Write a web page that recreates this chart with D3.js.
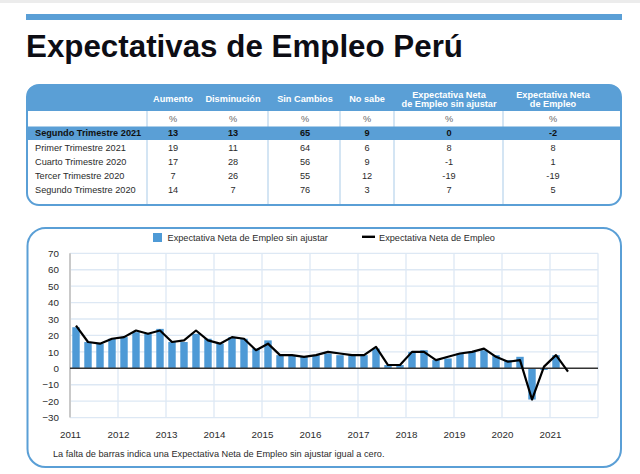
<!DOCTYPE html>
<html>
<head>
<meta charset="utf-8">
<script src="https://cdn.jsdelivr.net/npm/d3@7"></script>
<style>
  html, body { margin: 0; padding: 0; background: #fff; }
  svg { display: block; font-family: "Liberation Sans", Arial, Helvetica, sans-serif; }
</style>
</head>
<body>
<svg id="chart" width="640" height="474"></svg>
<script>
// ---------- DATA ----------
const title = "Expectativas de Empleo Perú";

const tableHeaders = [
  ["Aumento"], ["Disminución"], ["Sin Cambios"], ["No sabe"],
  ["Expectativa Neta", "de Empleo sin ajustar"], ["Expectativa Neta", "de Empleo"]
];
const rowLabels = ["Segundo Trimestre 2021", "Primer Trimestre 2021", "Cuarto Trimestre 2020",
                   "Tercer Trimestre 2020", "Segundo Trimestre 2020"];
const aumento       = [13, 19, 17, 7, 14];
const disminucion   = [13, 11, 28, 26, 7];
const sinCambios    = [65, 64, 56, 55, 76];
const noSabe        = [9, 6, 9, 12, 3];
const eneSinAjustar = [0, 8, -1, -19, 7];
const eneAjustada   = [-2, 8, 1, -19, 5];

const years = [2011, 2012, 2013, 2014, 2015, 2016, 2017, 2018, 2019, 2020, 2021];
const quarterNames = ["T1", "T2", "T3", "T4"];
// Expectativa Neta de Empleo sin ajustar (bars), 2011 T1 .. 2021 T2
const netUnadjusted = [25, 16, 15, 18,  19, 22, 21, 24,  16, 16, 21, 18,  15, 19, 18, 12,
                       17, 8, 8, 7,     8, 9, 8, 8,      8, 12, 2, 2,     10, 11, 5, 6,
                       9, 10, 11, 8,    5, 7, -19, -1,   8, 0];
// Expectativa Neta de Empleo (line)
const netAdjusted   = [26, 16, 15, 18,  19, 23, 21, 23,  16, 17, 23, 17,  15, 19, 18, 11,
                       15, 8, 8, 7,     8, 10, 9, 8,     8, 13, 2, 2,     10, 10, 5, 7,
                       9, 10, 12, 7,    4, 5, -19, 1,    8, -2];
const yTicks = [-30, -20, -10, 0, 10, 20, 30, 40, 50, 60, 70];
const legendLabels = ["Expectativa Neta de Empleo sin ajustar", "Expectativa Neta de Empleo"];
const footnote = "La falta de barras indica una Expectativa Neta de Empleo sin ajustar igual a cero.";

// ---------- STYLE ----------
const BLUE = "#5a9fd6";
const BAR = "#4e9ad6";
const GRID = "#dde8f4";
const TXT = "#2b2b2b";

const svg = d3.select("#chart");

// top shade + blue rule
svg.append("rect").attr("x", 0).attr("y", 0).attr("width", 640).attr("height", 3).attr("fill", "#ececec");
svg.append("rect").attr("x", 26).attr("y", 14).attr("width", 596).attr("height", 6).attr("fill", BLUE);

svg.append("text").attr("x", 26).attr("y", 57)
  .attr("font-size", 31).attr("font-weight", "bold").attr("fill", "#0d0d14")
  .attr("textLength", 437).attr("lengthAdjust", "spacingAndGlyphs")
  .text(title);

// ---------- TABLE ----------
const tX0 = 27, tX1 = 621, tY0 = 85, tY1 = 205, rad = 12;
const headBottom = 111;
svg.append("path")
  .attr("d", `M${tX0},${headBottom} L${tX0},${tY0 + rad} Q${tX0},${tY0} ${tX0 + rad},${tY0} L${tX1 - rad},${tY0} Q${tX1},${tY0} ${tX1},${tY0 + rad} L${tX1},${headBottom} Z`)
  .attr("fill", BLUE);

const colCenters = [173, 233, 305, 367, 449, 553];
const separators = [147, 268, 340, 394, 503];
const rowH = 14.2;
const pctY = 119;
const firstRowY = 133;

separators.forEach(sx => {
  svg.append("line").attr("x1", sx).attr("x2", sx).attr("y1", headBottom).attr("y2", tY1)
    .attr("stroke", "#a9cbe8").attr("stroke-width", 1);
});
svg.append("rect").attr("x", tX0).attr("y", firstRowY - 6.5).attr("width", tX1 - tX0).attr("height", 13.5)
  .attr("fill", BLUE);

svg.append("rect").attr("x", tX0).attr("y", tY0).attr("width", tX1 - tX0).attr("height", tY1 - tY0)
  .attr("rx", rad).attr("ry", rad).attr("fill", "none").attr("stroke", BLUE).attr("stroke-width", 2);

tableHeaders.forEach((lines, i) => {
  const t = svg.append("text").attr("x", colCenters[i]).attr("text-anchor", "middle")
    .attr("font-size", 9.2).attr("font-weight", "bold").attr("fill", "#fff");
  if (lines.length === 1) {
    t.attr("y", 102).text(lines[0]);
  } else {
    t.attr("y", 98).text(lines[0]);
    svg.append("text").attr("x", colCenters[i]).attr("y", 107).attr("text-anchor", "middle")
      .attr("font-size", 9.2).attr("font-weight", "bold").attr("fill", "#fff").text(lines[1]);
  }
  svg.append("text").attr("x", colCenters[i]).attr("y", pctY + 3.3).attr("text-anchor", "middle")
    .attr("font-size", 9.2).attr("fill", "#666").text("%");
});

const columns = [aumento, disminucion, sinCambios, noSabe, eneSinAjustar, eneAjustada];
rowLabels.forEach((lab, ri) => {
  const yy = firstRowY + ri * rowH + 3.3;
  const bold = ri === 0;
  svg.append("text").attr("x", 35).attr("y", yy).attr("font-size", 9.2)
    .attr("font-weight", bold ? "bold" : "normal").attr("fill", bold ? "#111" : TXT).text(lab);
  columns.forEach((col, ci) => {
    svg.append("text").attr("x", colCenters[ci]).attr("y", yy).attr("text-anchor", "middle")
      .attr("font-size", 9.2).attr("font-weight", bold ? "bold" : "normal")
      .attr("fill", bold ? "#111" : TXT).text(col[ri]);
  });
});

// ---------- CHART ----------
svg.append("rect").attr("x", 27.5).attr("y", 228).attr("width", 593.5).attr("height", 239)
  .attr("rx", 18).attr("ry", 18).attr("fill", "none").attr("stroke", BLUE).attr("stroke-width", 2);

const pLeft = 70, pRight = 598, pTop = 253.3, pBottom = 417.6;
const quarters = years.flatMap(yr => quarterNames.map(q => `${yr}-${q}`));
const xSlot = d3.scaleBand().domain(quarters).range([pLeft, pRight]).padding(0);
const xYear = d3.scaleLinear().domain([years[0], years[years.length - 1] + 1]).range([pLeft, pRight]);
const y = d3.scaleLinear().domain([-30, 70]).range([pBottom, pTop]);

const g = svg.append("g");
g.selectAll("line.hg").data(yTicks.filter(v => v !== 0)).join("line")
  .attr("x1", pLeft).attr("x2", pRight).attr("y1", d => y(d)).attr("y2", d => y(d))
  .attr("stroke", GRID).attr("stroke-width", 1.3);
g.selectAll("line.vg").data(years.slice(1).concat([years[years.length - 1] + 1])).join("line")
  .attr("x1", d => xYear(d)).attr("x2", d => xYear(d)).attr("y1", pTop).attr("y2", pBottom)
  .attr("stroke", GRID).attr("stroke-width", 1.3);
g.append("line").attr("x1", pLeft).attr("x2", pLeft).attr("y1", pTop).attr("y2", pBottom)
  .attr("stroke", "#c9c9c9").attr("stroke-width", 2);

const barW = xSlot.bandwidth() * 0.62;
g.selectAll("rect.bar").data(netUnadjusted).join("rect")
  .attr("class", "bar")
  .attr("x", (d, i) => xSlot(quarters[i]) + (xSlot.bandwidth() - barW) / 2)
  .attr("width", barW)
  .attr("y", d => y(Math.max(0, d)))
  .attr("height", d => Math.abs(y(d) - y(0)))
  .attr("fill", BAR);

g.append("line").attr("x1", pLeft).attr("x2", pRight).attr("y1", y(0)).attr("y2", y(0))
  .attr("stroke", "#333").attr("stroke-width", 1.4);

const line = d3.line()
  .x((d, i) => xSlot(quarters[i]) + xSlot.bandwidth() / 2)
  .y(d => y(d));
g.append("path").datum(netAdjusted).attr("d", line)
  .attr("fill", "none").attr("stroke", "#000").attr("stroke-width", 2.2).attr("stroke-linejoin", "round");

const yAxis = d3.axisLeft(y).tickValues(yTicks).tickSize(0).tickPadding(11);
const ya = svg.append("g").attr("transform", `translate(${pLeft},0)`).call(yAxis);
ya.select(".domain").remove();
ya.selectAll("text").attr("font-size", 9.8).attr("fill", TXT)
  .attr("font-family", "'Liberation Sans', Arial, sans-serif");

const xAxis = d3.axisBottom(xYear).tickValues(years).tickFormat(d3.format("d")).tickSize(0).tickPadding(10);
const xa = svg.append("g").attr("transform", `translate(0,${pBottom + 3})`).call(xAxis);
xa.select(".domain").remove();
xa.selectAll("text").attr("font-size", 9.8).attr("fill", TXT)
  .attr("font-family", "'Liberation Sans', Arial, sans-serif");

svg.append("rect").attr("x", 153).attr("y", 233).attr("width", 9).attr("height", 9).attr("fill", BAR);
svg.append("text").attr("x", 167.5).attr("y", 240.5).attr("font-size", 9.2).attr("fill", TXT).text(legendLabels[0]);
svg.append("line").attr("x1", 362).attr("x2", 375).attr("y1", 236.8).attr("y2", 236.8)
  .attr("stroke", "#000").attr("stroke-width", 2.4);
svg.append("text").attr("x", 379).attr("y", 240.5).attr("font-size", 9.2).attr("fill", TXT).text(legendLabels[1]);

svg.append("text").attr("x", 53).attr("y", 456.5).attr("font-size", 9.2).attr("fill", TXT).text(footnote);
</script>
</body>
</html>
